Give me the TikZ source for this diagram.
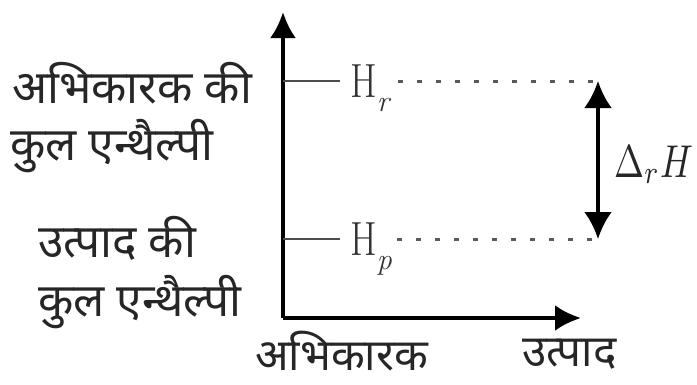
\documentclass[tikz,border=0pt]{standalone}
\usepackage{fontspec}
\newfontfamily\deva[Script=Devanagari]{Noto Sans}
\usetikzlibrary{arrows.meta}
\tikzset{
  axis/.style={line width=4pt,-{Latex[length=26pt,width=26pt]}},
  tickline/.style={line width=2.5pt,draw=black!70,shorten >=10pt},
  dotline/.style={line width=3pt,draw=black!65,dash pattern=on 5pt off 14pt},
  lbl/.style={font=\deva\fontsize{46}{50}\selectfont,inner sep=0pt,anchor=base west,text=black!85},
  blbl/.style={font=\deva\fontsize{44}{48}\selectfont,inner sep=0pt,anchor=base west,text=black!85},
  dbl/.style={line width=4pt,{Latex[length=27pt,width=28pt]}-{Latex[length=27pt,width=28pt]}},
  hlab/.style={inner sep=0pt,anchor=base west,text=black!80}
}
\newcommand{\bigH}{\scalebox{0.8}[1]{\fontsize{48}{48}\selectfont H}}
\newcommand{\subit}[1]{\raisebox{-14pt}{\fontsize{30}{30}\selectfont\itshape #1}}
\begin{document}
\begin{tikzpicture}[x=1pt,y=-1pt]
\useasboundingbox (0,0) rectangle (697,384);
\coordinate (O) at (283,318);
\coordinate (ytop) at (283,12);
\coordinate (xend) at (581,318);
\draw[axis] (O) -- (ytop);
\draw[axis] (O) -- (xend);
\coordinate (hrt) at (283,81);
\coordinate (hpt) at (283,239);
\node[hlab] (Hr) at (350,97) {\bigH\subit{r}};
\node[hlab] (Hp) at (350,255) {\bigH\subit{p}};
\draw[tickline] (hrt) -- (hrt -| Hr.west);
\draw[tickline] (hpt) -- (hpt -| Hp.west);
\coordinate (dr1) at (398,81);
\coordinate (dr2) at (594,81);
\coordinate (dp1) at (397,239);
\coordinate (dp2) at (596,239);
\draw[dotline] (dr1) -- (dr2);
\draw[dotline] (dp1) -- (dp2);
\coordinate (a1) at (598,81);
\coordinate (a2) at (598,239);
\draw[dbl] (a1) -- (a2);
\node[inner sep=0pt,anchor=base west,text=black!85] (dH) at (614,177) {\scalebox{3.6}[4.6]{$\Delta_{r}H$}};
\node[lbl] (l1) at (12,103) {अभिकारक की};
\node[lbl] (l2) at (10,160) {कुल एन्थैल्पी};
\node[lbl] (l3) at (38,257) {उत्पाद की};
\node[lbl] (l4) at (38,316) {कुल एन्थैल्पी};
\node[blbl] (b1) at (255,370) {अभिकारक};
\node[blbl] (b2) at (522,366) {उत्पाद};
\end{tikzpicture}
\end{document}
